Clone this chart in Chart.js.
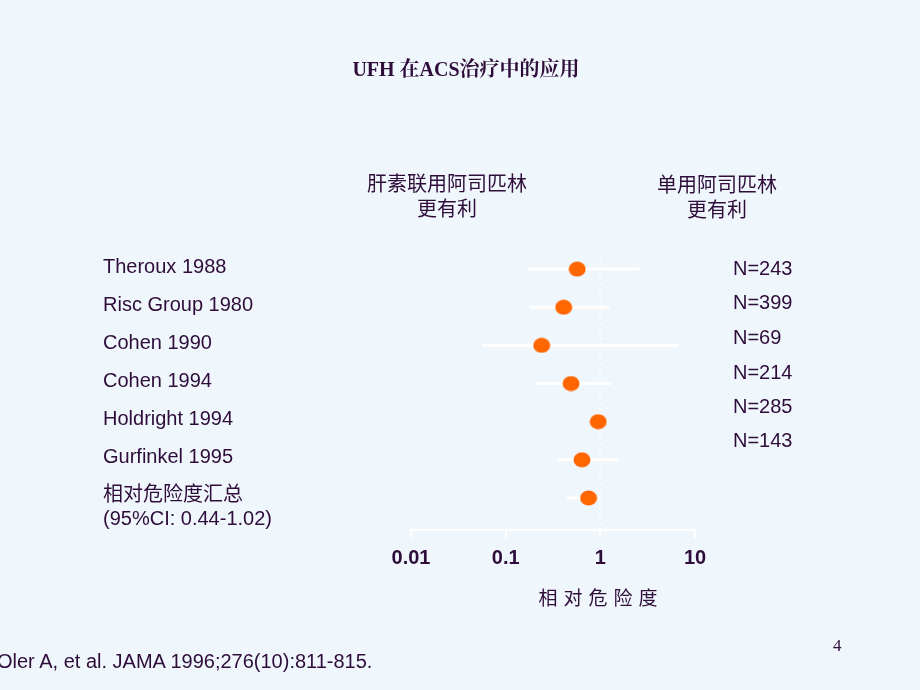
<!DOCTYPE html>
<html>
<head>
<meta charset="utf-8">
<script src="https://cdn.jsdelivr.net/npm/chart.js@4/dist/chart.umd.min.js"></script>
<style>
    body { margin: 0; background: #EFF6FC; }
    #wrap { position: relative; width: 920px; height: 690px; overflow: hidden; background: #EFF6FC; }
    #chart { position: absolute; left: 0; top: 0; }
    .txt { position: absolute; color: #2E0D3A; font-family: 'Liberation Sans', Arial, 'Noto Sans CJK SC', sans-serif; white-space: nowrap; }
    .center { transform: translate(-50%, -50%); text-align: center; }
    .left { transform: translateY(-50%); }
    #title { font-family: 'Liberation Serif', 'Noto Serif CJK SC', 'Noto Sans CJK SC', serif; font-weight: bold; font-size: 20px; }
    .head { font-family: 'Noto Sans CJK SC', sans-serif; font-size: 20px; line-height: 25px; }
</style>
</head>
<body>
<div id="wrap">
    <canvas id="chart" width="920" height="690"></canvas>
    <div id="title" class="txt center" style="left:466px; top:67px;">UFH 在ACS治疗中的应用</div>
    <div class="txt center head" style="left:447px; top:195px;">肝素联用阿司匹林<br>更有利</div>
    <div class="txt center head" style="left:717px; top:196px;">单用阿司匹林<br>更有利</div>
    <div id="nLabels"></div>
    <div class="txt center" style="left:601px; top:596px; font-family:'Noto Sans CJK SC'; font-size:19px; letter-spacing:6px;">相对危险度</div>
    <div class="txt left" style="left:-3px; top:661px; font-size:20px;">Oler A, et al. JAMA 1996;276(10):811-815.</div>
    <div class="txt left" style="left:833px; top:646px; font-family:'Liberation Serif', serif; font-size:17px;">4</div>
</div>
<script>
const studies = ['Theroux 1988', 'Risc Group 1980', 'Cohen 1990', 'Cohen 1994', 'Holdright 1994', 'Gurfinkel 1995', ['相对危险度汇总', '(95%CI: 0.44-1.02)']];
const riskRatio = [0.57, 0.41, 0.24, 0.49, 0.95, 0.64, 0.75];
const ciLow = [0.17, 0.18, 0.056, 0.21, 0.88, 0.35, 0.44];
const ciHigh = [2.6, 1.25, 6.7, 1.3, 1.05, 1.55, 1.02];
const nLabels = ['N=243', 'N=399', 'N=69', 'N=214', 'N=285', 'N=143'];
const xTicks = [0.01, 0.1, 1, 10];

const textColor = '#2E0D3A';

// N= labels on the right
const nTop = [268, 302, 337, 372, 406, 440];
nLabels.forEach((t, i) => {
    const d = document.createElement('div');
    d.className = 'txt left';
    d.style.left = '733px';
    d.style.top = nTop[i] + 'px';
    d.style.fontSize = '20px';
    d.textContent = t;
    document.getElementById('nLabels').appendChild(d);
});

// ellipse marker
const dot = document.createElement('canvas');
dot.width = 18;
dot.height = 16;
const dctx = dot.getContext('2d');
dctx.fillStyle = '#FF6600';
dctx.beginPath();
dctx.ellipse(9, 8, 8.5, 7.5, 0, 0, Math.PI * 2);
dctx.fill();

const forestPlugin = {
    id: 'forest',
    beforeDatasetsDraw(chart) {
        const ctx = chart.ctx;
        const xs = chart.scales.x;
        const ys = chart.scales.y;
        ctx.save();
        // dotted line at RR = 1
        ctx.strokeStyle = '#FFFFFF';
        ctx.lineWidth = 2;
        ctx.setLineDash([2, 3]);
        ctx.beginPath();
        ctx.moveTo(xs.getPixelForValue(1), chart.chartArea.top);
        ctx.lineTo(xs.getPixelForValue(1), chart.chartArea.bottom);
        ctx.stroke();
        // confidence intervals
        ctx.setLineDash([]);
        ctx.lineWidth = 3;
        riskRatio.forEach((v, i) => {
            const y = ys.getPixelForValue(i);
            ctx.beginPath();
            ctx.moveTo(xs.getPixelForValue(ciLow[i]), y);
            ctx.lineTo(xs.getPixelForValue(ciHigh[i]), y);
            ctx.stroke();
        });
        ctx.restore();
    },
    afterDraw(chart) {
        const ctx = chart.ctx;
        const ys = chart.scales.y;
        ctx.save();
        ctx.fillStyle = textColor;
        ctx.font = '20px "Liberation Sans", Arial, "Noto Sans CJK SC"';
        ctx.textAlign = 'left';
        ctx.textBaseline = 'middle';
        studies.forEach((s, i) => {
            const y = ys.getPixelForValue(i) - 3;
            const lines = Array.isArray(s) ? s : [s];
            lines.forEach((line, j) => ctx.fillText(line, 103, y + 1 + j * 24));
        });
        ctx.restore();
    }
};

new Chart(document.getElementById('chart'), {
    type: 'scatter',
    data: {
        datasets: [{
            data: riskRatio.map((v, i) => ({ x: v, y: i })),
            pointStyle: dot,
            pointRadius: 8,
            pointHoverRadius: 8
        }]
    },
    options: {
        responsive: false,
        animation: false,
        events: [],
        layout: { padding: { left: 411, right: 225, top: 258, bottom: 120 } },
        plugins: { legend: { display: false }, tooltip: { enabled: false } },
        scales: {
            x: {
                type: 'logarithmic',
                min: 0.01,
                max: 10,
                afterBuildTicks: scale => { scale.ticks = xTicks.map(v => ({ value: v })); },
                afterFit: scale => { scale.height = 40; },
                grid: { drawOnChartArea: false, drawTicks: true, tickLength: 8, color: '#FFFFFF', lineWidth: 2 },
                border: { display: true, color: '#FFFFFF', width: 2 },
                ticks: {
                    color: textColor,
                    padding: 8,
                    maxRotation: 0,
                    autoSkip: false,
                    font: { family: '"Liberation Sans", Arial', size: 20, weight: 'bold' },
                    callback: v => String(v)
                }
            },
            y: {
                type: 'linear',
                display: false,
                reverse: true,
                min: -0.29,
                max: 6.84
            }
        }
    },
    plugins: [forestPlugin]
});
</script>
</body>
</html>
